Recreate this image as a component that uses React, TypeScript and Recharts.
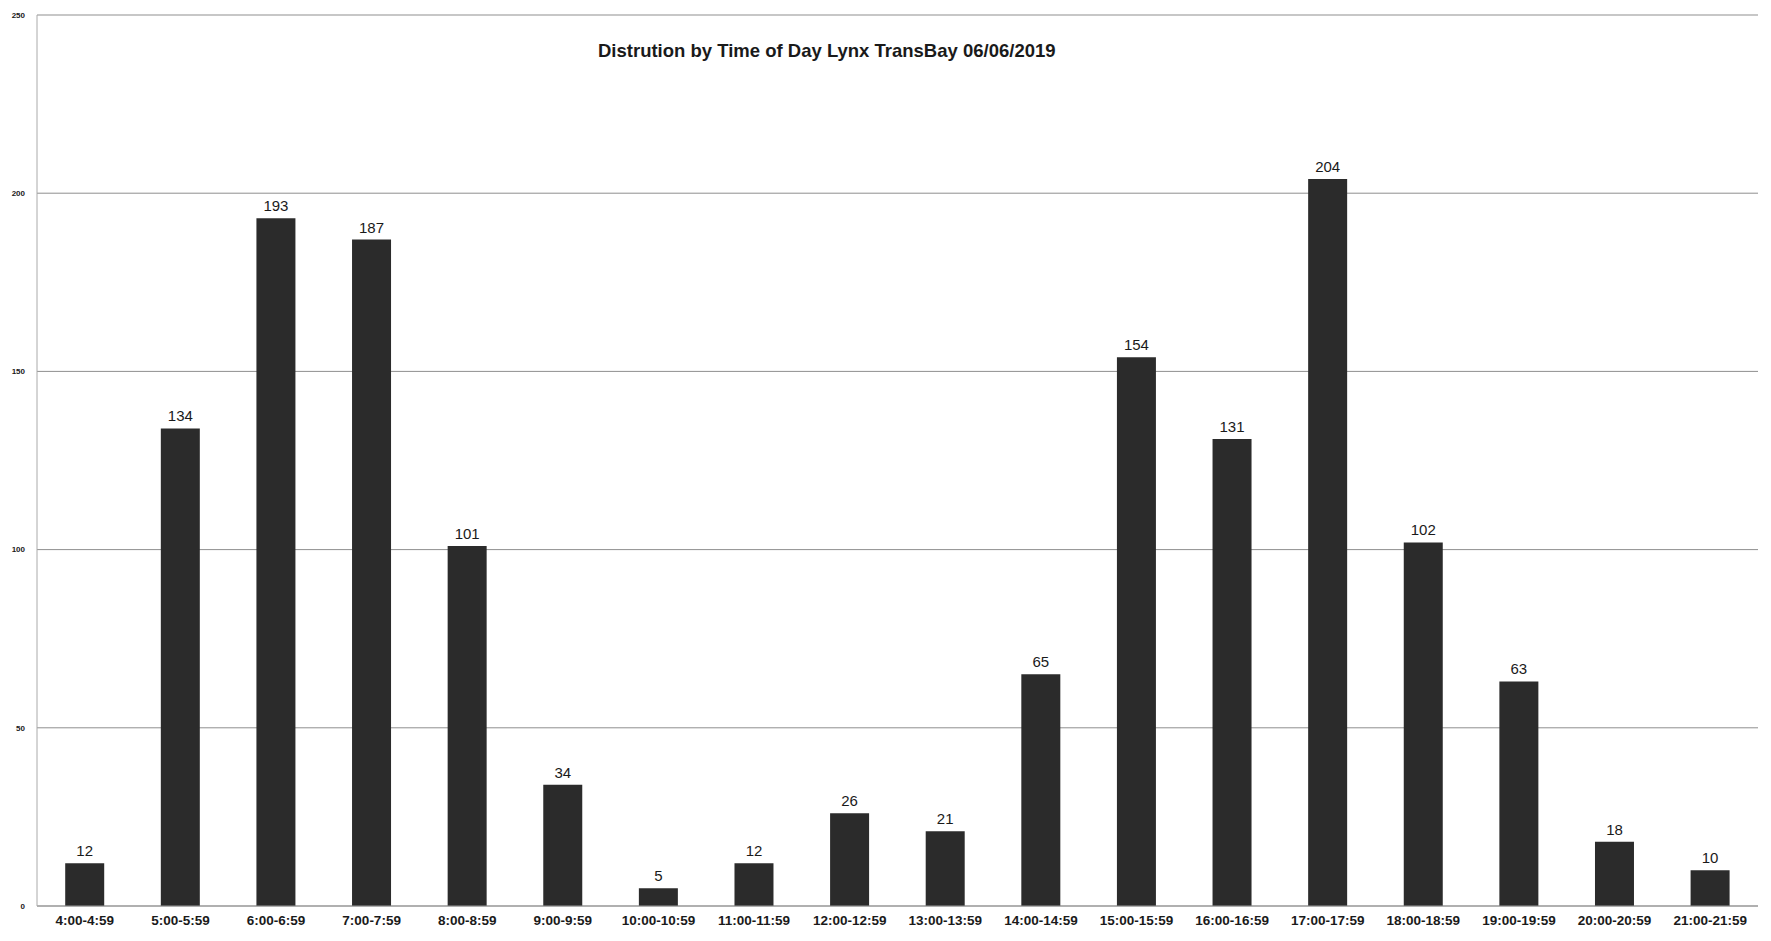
import React from "react";
import { BarChart, Bar, XAxis, YAxis, CartesianGrid, LabelList } from "recharts";

// Boardings per hour of day
const hours = [
  "4:00-4:59", "5:00-5:59", "6:00-6:59", "7:00-7:59", "8:00-8:59", "9:00-9:59",
  "10:00-10:59", "11:00-11:59", "12:00-12:59", "13:00-13:59", "14:00-14:59", "15:00-15:59",
  "16:00-16:59", "17:00-17:59", "18:00-18:59", "19:00-19:59", "20:00-20:59", "21:00-21:59",
];
const counts = [12, 134, 193, 187, 101, 34, 5, 12, 26, 21, 65, 154, 131, 204, 102, 63, 18, 10];
const yTicks = [0, 50, 100, 150, 200, 250];

const TITLE = "Distrution by Time of Day Lynx TransBay 06/06/2019";
const FONT = "'Liberation Sans', Arial, sans-serif";

const chartData = hours.map((h, i) => ({ hour: h, count: counts[i] }));

export default function App() {
  return (
    <div style={{ position: "absolute", left: 0, top: 0, width: 1771, height: 941, background: "#fff", fontFamily: FONT }}>
      <div
        style={{
          position: "absolute",
          left: 598,
          top: 40,
          fontSize: 18.5,
          fontWeight: "bold",
          color: "#1a1a1a",
          whiteSpace: "nowrap",
        }}
      >
        {TITLE}
      </div>
      <BarChart
        width={1771}
        height={941}
        data={chartData}
        margin={{ top: 15, right: 13, left: 7, bottom: 5 }}
        barCategoryGap="29.5%"
      >
        <CartesianGrid vertical={false} stroke="#8f8f8f" strokeWidth={1} />
        <XAxis
          dataKey="hour"
          interval={0}
          height={30}
          tickLine={false}
          axisLine={{ stroke: "#999" }}
          tick={{ fontSize: 13.5, fill: "#1a1a1a", fontFamily: FONT, fontWeight: "bold" }}
          tickMargin={3}
        />
        <YAxis
          width={30}
          domain={[0, 250]}
          ticks={yTicks}
          tickLine={false}
          axisLine={{ stroke: "#aaa" }}
          tick={{ fontSize: 8, fill: "#1a1a1a", fontFamily: FONT, fontWeight: "bold" }}
          tickMargin={6}
        />
        <Bar dataKey="count" fill="#2b2b2b" isAnimationActive={false}>
          <LabelList dataKey="count" position="top" offset={7} style={{ fontSize: 15, fill: "#1a1a1a", fontFamily: FONT }} />
        </Bar>
      </BarChart>
    </div>
  );
}
